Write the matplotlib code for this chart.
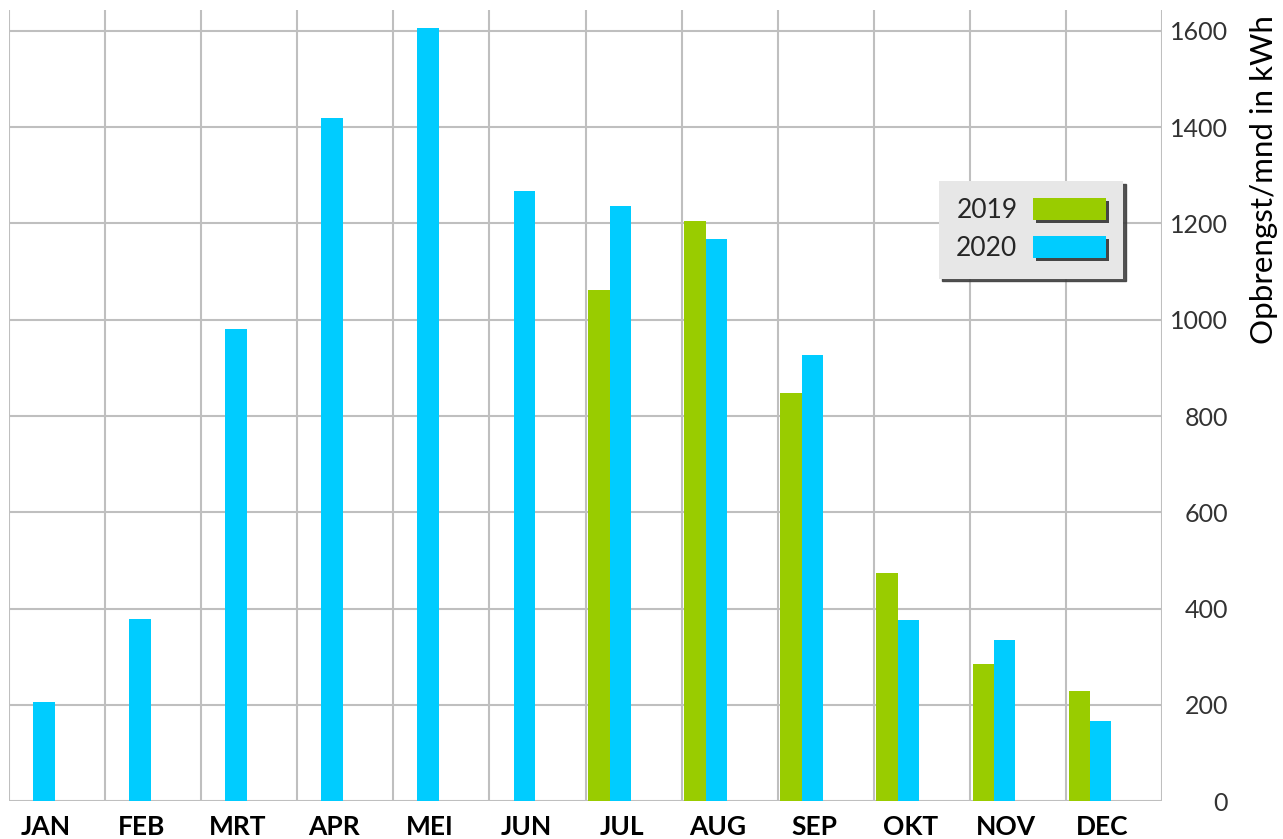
import numpy as np
import matplotlib
matplotlib.use('Agg')
import matplotlib.pyplot as plt
import matplotlib.patheffects as pe

# Monthly yield (kWh)
months = ['JAN', 'FEB', 'MRT', 'APR', 'MEI', 'JUN', 'JUL', 'AUG', 'SEP', 'OKT', 'NOV', 'DEC']
yield_2019 = [0, 0, 0, 0, 0, 0, 1062, 1204, 848, 474, 285, 230]
yield_2020 = [206, 379, 981, 1419, 1606, 1267, 1237, 1167, 927, 377, 335, 166]
y_ticks = [0, 200, 400, 600, 800, 1000, 1200, 1400, 1600]

green = '#99cc00'
cyan = '#00ccff'
grid_col = '#bfbfbf'

plt.rcParams['font.family'] = ['Lato', 'DejaVu Sans']

fig = plt.figure(figsize=(12.83, 8.39), dpi=100)
ax = fig.add_axes([9 / 1283, 1 - 801.3 / 839, (1162 - 9) / 1283, (801.3 - 10) / 839])

x = np.arange(len(months))
bw = 0.223
off = 0.028
ax.bar(x + off, yield_2019, width=bw, align='edge', color=green, label='2019', zorder=3)
ax.bar(x + off + bw, yield_2020, width=bw, align='edge', color=cyan, label='2020', zorder=3)

ax.set_xlim(0, 12)
ax.set_ylim(0, 1643)

# grid: verticals on category boundaries, horizontals on the value ticks
for b in range(0, 13):
    ax.axvline(b, color=grid_col, lw=1.5, zorder=1)
for t in y_ticks:
    ax.axhline(t, color=grid_col, lw=1.5, zorder=1)

for s in ['top', 'left', 'right', 'bottom']:
    ax.spines[s].set_visible(False)

ax.set_xticks(x + 0.38)
ax.set_xticklabels(months, fontsize=19, fontweight='bold', color='black')
ax.tick_params(axis='x', length=0, pad=10)

ax.yaxis.tick_right()
ax.set_yticks(y_ticks)
ax.set_yticklabels([str(t) for t in y_ticks], fontsize=18, color='#333333', ha='right')
ax.tick_params(axis='y', length=0, pad=47.5)

fig.text(1264 / 1283, 1 - 180 / 839, 'Opbrengst/mnd in kWh', rotation=90,
         ha='center', va='center', fontsize=22.5, color='black')

leg = ax.legend(loc='upper left', bbox_to_anchor=(939 / 1283, 1 - 181 / 839),
                bbox_transform=fig.transFigure, markerfirst=False, fontsize=19,
                handlelength=2.75, handleheight=0.9, handletextpad=0.6,
                labelspacing=0.5, borderpad=0.65, borderaxespad=0,
                fancybox=False, shadow={'color': '#404040', 'alpha': 0.9})
leg.get_frame().set_facecolor('#e7e7e7')
leg.get_frame().set_edgecolor('none')
leg.get_frame().set_alpha(1)
for t in leg.get_texts():
    t.set_color('#262626')
for p in leg.get_patches():
    p.set_path_effects([pe.SimplePatchShadow(offset=(2, -2), shadow_rgbFace='#333333', alpha=0.9),
                        pe.Normal()])

fig.savefig('out.png', dpi=100)
